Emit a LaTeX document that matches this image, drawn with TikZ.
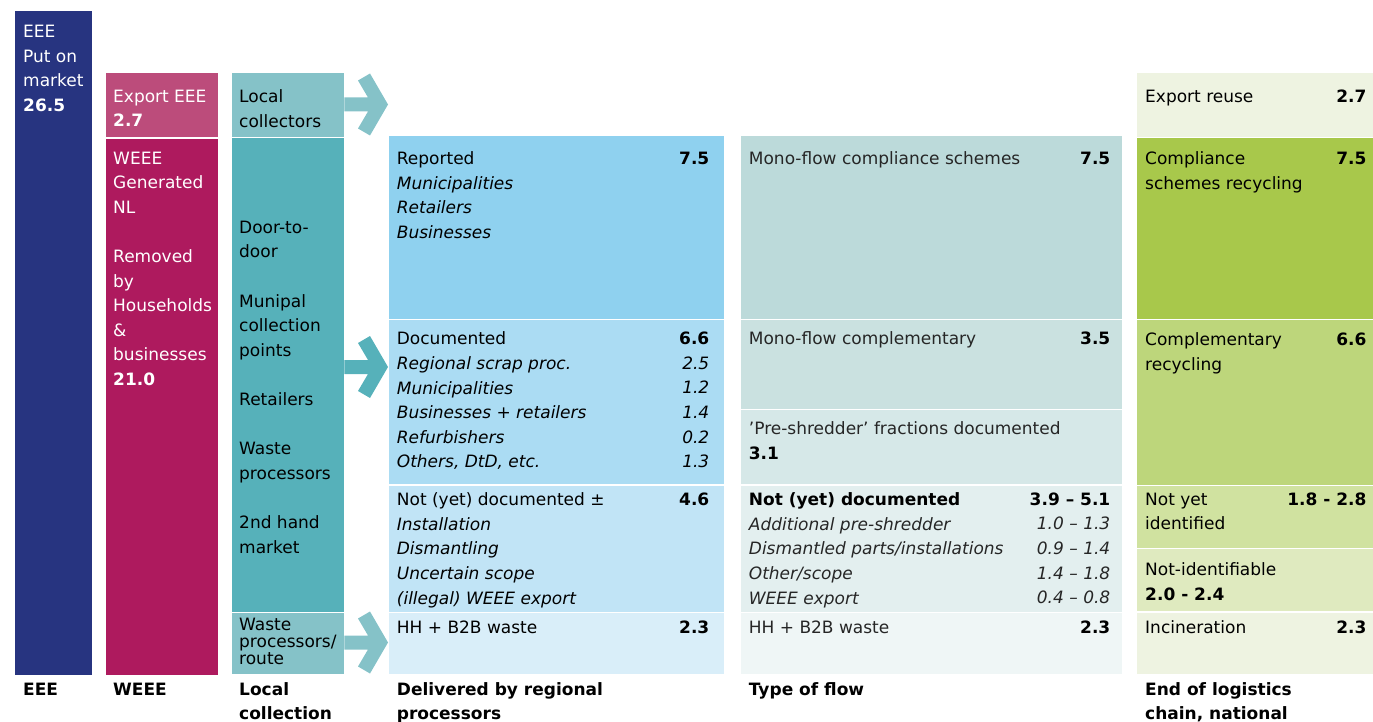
\documentclass[tikz,border=0pt]{standalone}
\usepackage{fontspec}
\setmainfont{DejaVu Sans}
\usepackage{xcolor}
\usepackage{tikz}
\usetikzlibrary{positioning,calc}
\definecolor{eeeblue}{RGB}{39, 52, 128}
\definecolor{exportpink}{RGB}{188, 76, 123}
\definecolor{weeepink}{RGB}{174, 26, 94}
\definecolor{lightteal}{RGB}{133, 194, 200}
\definecolor{teal}{RGB}{86, 177, 186}
\definecolor{blueA}{RGB}{143, 209, 239}
\definecolor{blueB}{RGB}{171, 220, 243}
\definecolor{blueC}{RGB}{193, 228, 246}
\definecolor{blueD}{RGB}{217, 238, 249}
\definecolor{greyA}{RGB}{188, 218, 218}
\definecolor{greyB}{RGB}{202, 225, 224}
\definecolor{greyC}{RGB}{214, 232, 232}
\definecolor{greyD}{RGB}{227, 239, 239}
\definecolor{greyE}{RGB}{239, 246, 246}
\definecolor{greenA}{RGB}{168, 200, 75}
\definecolor{greenB}{RGB}{189, 214, 123}
\definecolor{greenC}{RGB}{208, 226, 160}
\definecolor{greenD}{RGB}{223, 234, 191}
\definecolor{greenE}{RGB}{238, 243, 225}

% chevron arrow from a box to a tip coordinate
\newcommand{\flowarrow}[3]{%
  \fill[#3] ($(#1.east |- #2)+(0,-7)$) -- ($(#2)+(-20,-7)$) -- ($(#2)+(-30,-24)$)
    -- ($(#2)+(-18,-31)$) -- (#2) -- ($(#2)+(-18,31)$) -- ($(#2)+(-30,24)$)
    -- ($(#2)+(-20,7)$) -- ($(#1.east |- #2)+(0,7)$) -- cycle;}

\begin{document}
\begin{tikzpicture}[x=1pt, y=-1pt,
    cell/.style={rectangle, inner sep=0pt, anchor=north west, draw=none},
    txt/.style={inner sep=0pt, anchor=north west, yshift=16pt, align=left,
      font=\fontsize{17}{24.6}\selectfont, execute at begin node={\rule{0pt}{16pt}}},
    num/.style={txt, anchor=north east, align=right},
    lines/.style={yshift=-3.5pt},
    head/.style={txt, font=\fontsize{17}{24}\selectfont\bfseries}]
    \useasboundingbox (0,0) rectangle (1373,722);

    % EEE column
    \node[cell, fill=eeeblue, minimum width=77, minimum height=664] (eee) at (15,11) {};
    \node[txt, lines, white] (eeet) at (23,37.7) {EEE\\Put on\\market\\\textbf{26.5}};

    % WEEE column
    \node[cell, fill=exportpink, minimum width=112, minimum height=64] (expeee) at (106,73) {};
    \node[cell, fill=weeepink, minimum width=112, minimum height=536] (weee) at (106,138.5) {};
    \node[txt, lines, white] (expeeet) at (113,102.3) {Export EEE\\\textbf{2.7}};
    \node[txt, lines, white] (weeet) at (113,164) {WEEE\\Generated\\NL\\\mbox{}\\Removed\\by\\Households\\\&\\businesses\\\textbf{21.0}};

    % Local collection column
    \node[cell, fill=lightteal, minimum width=112, minimum height=63.5] (lcol) at (232,73) {};
    \node[cell, fill=teal, minimum width=112, minimum height=473.5] (door) at (232,138) {};
    \node[cell, fill=lightteal, minimum width=112, minimum height=61] (wroute) at (232,613) {};
    \node[txt, lines] (lcolt) at (239,102.3) {Local\\collectors};
    \node[txt, lines] (doort) at (239,233.3) {Door-to-\\door\\\mbox{}\\Munipal\\collection\\points\\\mbox{}\\Retailers\\\mbox{}\\Waste\\processors\\\mbox{}\\2nd hand\\market};
    \node[txt, lines, font=\fontsize{17}{17}\selectfont] (wroutet) at (239,630.7) {Waste\\processors/\\route};

    % Delivered by regional processors
    \node[cell, fill=blueA, minimum width=335, minimum height=182.5] (rep) at (389,136) {};
    \node[cell, fill=blueB, minimum width=335, minimum height=164] (doc) at (389,320) {};
    \node[cell, fill=blueC, minimum width=335, minimum height=126] (nyd) at (389,485.5) {};
    \node[cell, fill=blueD, minimum width=335, minimum height=61] (hh) at (389,613) {};
    \node[txt, lines] (rept) at (396.7,164) {Reported\\\textit{Municipalities}\\\textit{Retailers}\\\textit{Businesses}};
    \node[num] (repv) at (709.5,164) {\textbf{7.5}};
    \node[txt, lines] (doct) at (396.7,344.3) {Documented\\\textit{Regional scrap proc.}\\\textit{Municipalities}\\\textit{Businesses + retailers}\\\textit{Refurbishers}\\\textit{Others, DtD, etc.}};
    \node[num, lines] (docv) at (709.5,344.3) {\textbf{6.6}\\\textit{2.5}\\\textit{1.2}\\\textit{1.4}\\\textit{0.2}\\\textit{1.3}};
    \node[txt, lines] (nydt) at (396.7,505) {Not (yet) documented ±\\\textit{Installation}\\\textit{Dismantling}\\\textit{Uncertain scope}\\\textit{(illegal) WEEE export}};
    \node[num] (nydv) at (709.5,505) {\textbf{4.6}};
    \node[txt] (hht) at (396.7,633.7) {HH + B2B waste};
    \node[num] (hhv) at (709.5,633.7) {\textbf{2.3}};

    % Type of flow
    \node[cell, fill=greyA, minimum width=381, minimum height=182.5] (mfc) at (741,136) {};
    \node[cell, fill=greyB, minimum width=381, minimum height=88.5] (mfcomp) at (741,320) {};
    \node[cell, fill=greyC, minimum width=381, minimum height=74] (pre) at (741,410) {};
    \node[cell, fill=greyD, minimum width=381, minimum height=126] (tnyd) at (741,485.5) {};
    \node[cell, fill=greyE, minimum width=381, minimum height=61] (thh) at (741,613) {};
    \node[txt, black!85] (mfct) at (748.7,164) {Mono-flow compliance schemes};
    \node[num] (mfcv) at (1110.5,164) {\textbf{7.5}};
    \node[txt, black!85] (mfcompt) at (748.7,344.3) {Mono-flow complementary};
    \node[num] (mfcompv) at (1110.5,344.3) {\textbf{3.5}};
    \node[txt, lines, black!85] (pret) at (748.7,434.3) {’Pre-shredder’ fractions documented\\\textcolor{black}{\textbf{3.1}}};
    \node[txt, lines, black!85] (tnydt) at (748.7,505) {\textcolor{black}{\textbf{Not (yet) documented}}\\\textit{Additional pre-shredder}\\\textit{Dismantled parts/installations}\\\textit{Other/scope}\\\textit{WEEE export}};
    \node[num, lines, black!85] (tnydv) at (1110.5,505) {\textcolor{black}{\textbf{3.9 – 5.1}}\\\textit{1.0 – 1.3}\\\textit{0.9 – 1.4}\\\textit{1.4 – 1.8}\\\textit{0.4 – 0.8}};
    \node[txt, black!85] (thht) at (748.7,633.7) {HH + B2B waste};
    \node[num] (thhv) at (1110.5,633.7) {\textbf{2.3}};

    % End of logistics chain
    \node[cell, fill=greenE, minimum width=236, minimum height=63.5] (exr) at (1137,73) {};
    \node[cell, fill=greenA, minimum width=236, minimum height=181] (csr) at (1137,137.5) {};
    \node[cell, fill=greenB, minimum width=236, minimum height=164.5] (crc) at (1137,320) {};
    \node[cell, fill=greenC, minimum width=236, minimum height=61.5] (nyi) at (1137,486) {};
    \node[cell, fill=greenD, minimum width=236, minimum height=62] (nid) at (1137,549) {};
    \node[cell, fill=greenE, minimum width=236, minimum height=61.5] (inc) at (1137,612.5) {};
    \node[txt] (exrt) at (1145,102) {Export reuse};
    \node[num] (exrv) at (1366.7,102) {\textbf{2.7}};
    \node[txt, lines] (csrt) at (1145,164.3) {Compliance\\schemes recycling};
    \node[num] (csrv) at (1366.7,164.3) {\textbf{7.5}};
    \node[txt, lines] (crct) at (1145,345) {Complementary\\recycling};
    \node[num] (crcv) at (1366.7,345) {\textbf{6.6}};
    \node[txt, lines] (nyit) at (1145,505) {Not yet\\identified};
    \node[num] (nyiv) at (1366.7,505) {\textbf{1.8 - 2.8}};
    \node[txt, lines] (nidt) at (1145,575) {Not-identifiable\\\textbf{2.0 - 2.4}};
    \node[txt] (inct) at (1145,633.3) {Incineration};
    \node[num] (incv) at (1366.7,633.3) {\textbf{2.3}};

    % Arrows
    \coordinate (tipA) at (388,104.5);
    \coordinate (tipB) at (388,367);
    \coordinate (tipC) at (388,642.5);
    \flowarrow{lcol}{tipA}{lightteal}
    \flowarrow{door}{tipB}{teal}
    \flowarrow{wroute}{tipC}{lightteal}

    % Column headings
    \node[head] (heee) at (23,695) {EEE};
    \node[head] (hweee) at (113,695) {WEEE};
    \node[head, lines] (hlocal) at (239,695) {Local\\collection};
    \node[head, lines] (hdeliv) at (396.7,695) {Delivered by regional\\processors};
    \node[head] (htype) at (748.7,695) {Type of flow};
    \node[head, lines] (hend) at (1145,695) {End of logistics\\chain, national};
\end{tikzpicture}
\end{document}
